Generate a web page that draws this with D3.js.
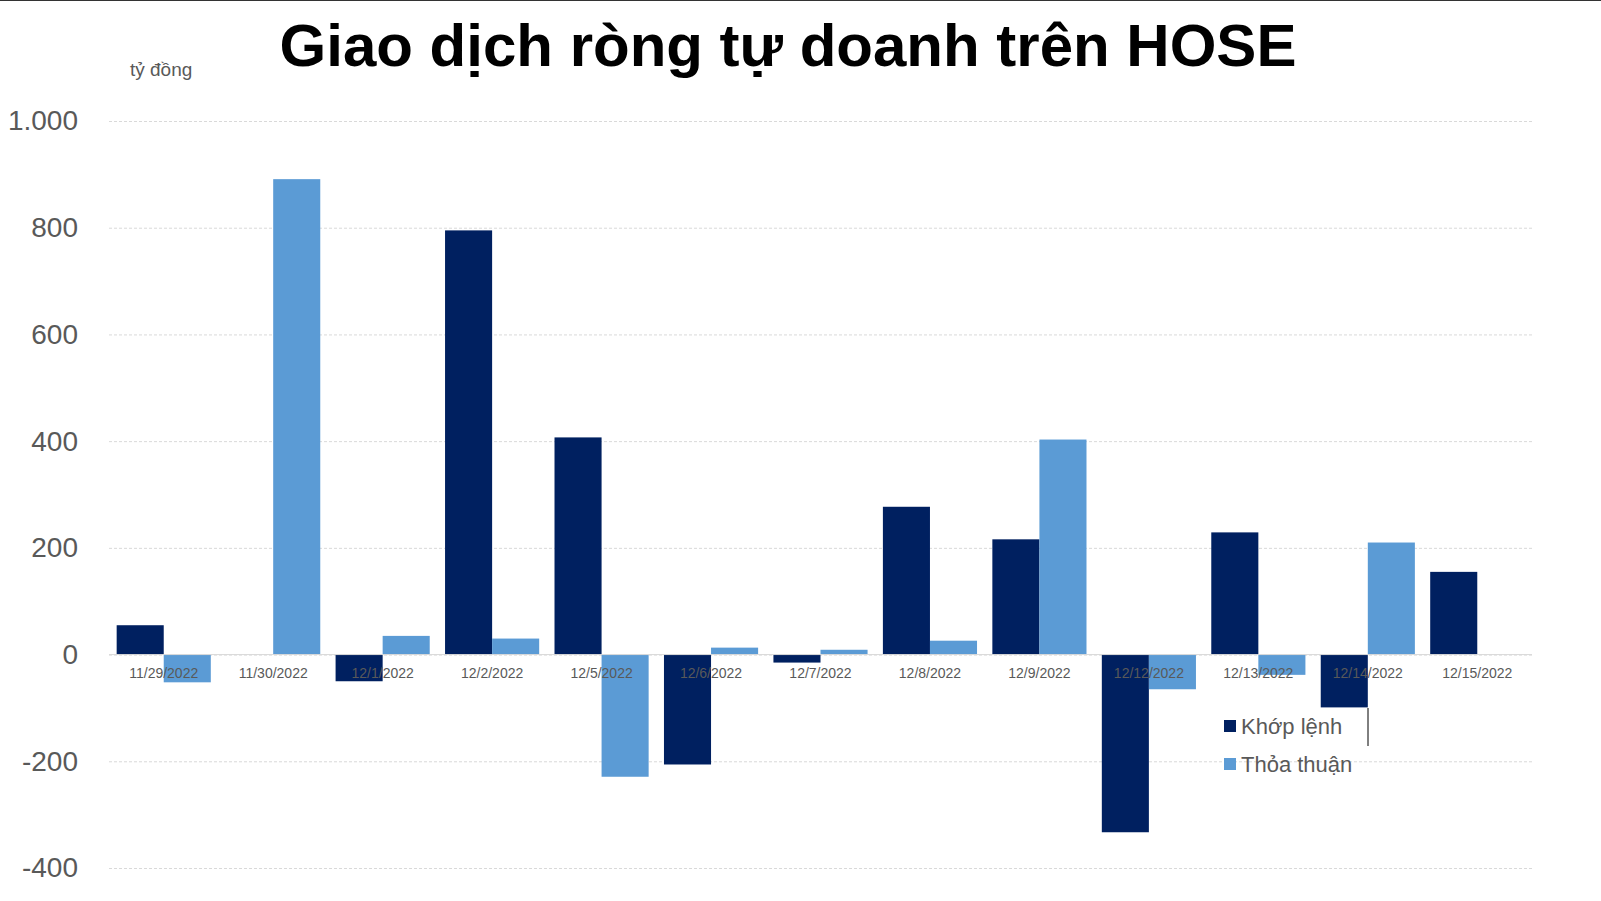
<!DOCTYPE html>
<html><head><meta charset="utf-8">
<script src="https://cdn.jsdelivr.net/npm/d3@7"></script>
<style>body{margin:0;background:#fff}</style></head>
<body><svg id="c" width="1601" height="901"></svg>
<script>
const categories=["11/29/2022","11/30/2022","12/1/2022","12/2/2022","12/5/2022","12/6/2022","12/7/2022","12/8/2022","12/9/2022","12/12/2022","12/13/2022","12/14/2022","12/15/2022"];
const khopLenh=[55,0,-50,795,407,-206,-15,277,216,-333,229,-99,155];
const thoaThuan=[-52,891,35,30,-229,13,9,26,403,-65,-38,210,0];
const yTicks=[-400,-200,0,200,400,600,800,1000];
const seriesNames=["Khớp lệnh","Thỏa thuận"];
const colors=["#002060","#5b9bd5"];

const svg=d3.select("#c");
svg.append("rect").attr("width",1601).attr("height",901).attr("fill","#fff");
svg.append("line").attr("x1",0).attr("x2",1601).attr("y1",0.5).attr("y2",0.5).attr("stroke","#333");
const y=d3.scaleLinear().domain([-400,1000]).range([868,121]);
const x=d3.scaleBand().domain(categories).range([109,1532]).paddingInner(0.14).paddingOuter(0.07);
const xs=d3.scaleBand().domain([0,1]).range([0,x.bandwidth()]);

const yAxis=svg.append("g").attr("transform","translate(109,0)")
 .call(d3.axisLeft(y).tickValues(yTicks).tickSize(-1423).tickFormat(d=>String(d).replace("000",".000")));
yAxis.select(".domain").remove();
yAxis.selectAll(".tick line").attr("stroke","#d9d9d9").attr("stroke-dasharray","3,2");
yAxis.selectAll(".tick text").attr("x",-31).attr("fill","#595959").attr("font-family","Liberation Sans, Arial").attr("font-size",28);

[khopLenh,thoaThuan].forEach((s,i)=>{
 svg.append("g").selectAll("rect").data(s).join("rect")
  .attr("x",(d,j)=>x(categories[j])+xs(i)).attr("width",xs.bandwidth())
  .attr("y",d=>y(Math.max(0,d))).attr("height",d=>Math.abs(y(d)-y(0)))
  .attr("fill",colors[i]);
});
svg.append("line").attr("x1",109).attr("x2",1532).attr("y1",y(0)).attr("y2",y(0)).attr("stroke","#d9d9d9");

svg.append("g").selectAll("text").data(categories).join("text")
 .attr("x",d=>x(d)+x.bandwidth()/2).attr("y",678).attr("text-anchor","middle")
 .attr("font-family","Liberation Sans, Arial").attr("font-size",14).attr("fill","#595959").text(d=>d);

svg.append("text").attr("x",788).attr("y",66).attr("text-anchor","middle")
 .attr("font-family","Liberation Sans, Arial").attr("font-weight","bold").attr("font-size",60).attr("fill","#000")
 .text("Giao dịch ròng tự doanh trên HOSE");
svg.append("text").attr("x",130).attr("y",76).attr("font-family","Liberation Sans, Arial").attr("font-size",19).attr("fill","#595959").text("tỷ đồng");

seriesNames.forEach((n,i)=>{
 const g=svg.append("g").attr("transform",`translate(1224,${720+i*38})`);
 g.append("rect").attr("width",12).attr("height",12).attr("fill",colors[i]);
 g.append("text").attr("x",17).attr("y",14).attr("font-family","Liberation Sans, Arial").attr("font-size",22).attr("fill","#595959").text(n);
});
svg.append("line").attr("x1",1368).attr("x2",1368).attr("y1",708).attr("y2",746).attr("stroke","#000");
</script></body></html>
